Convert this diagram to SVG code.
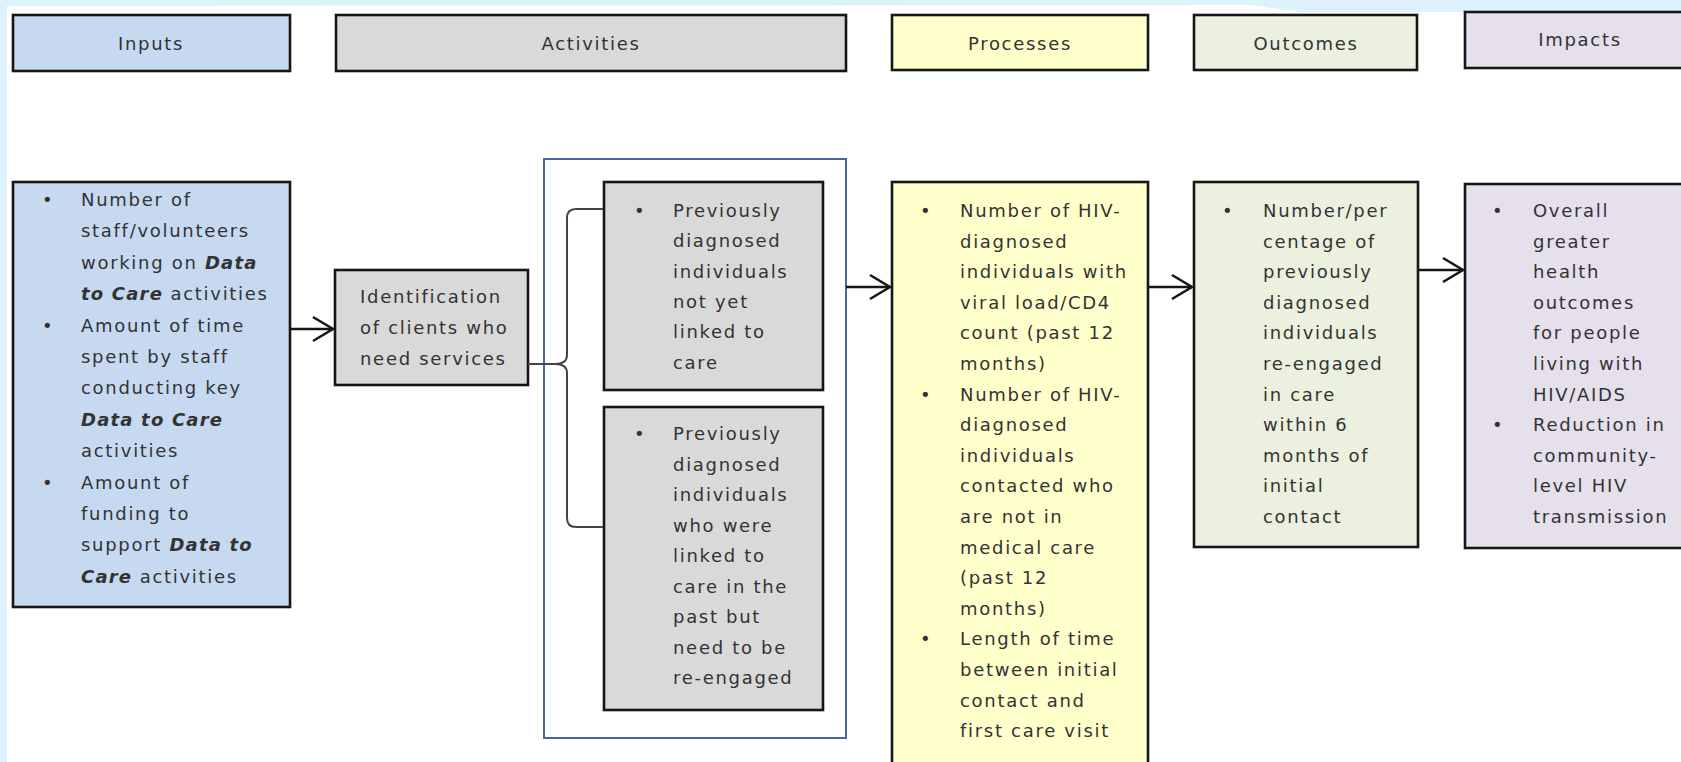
<svg xmlns="http://www.w3.org/2000/svg" width="1681" height="762" viewBox="0 0 1681 762">
  <style>
    .box { stroke: #161616; stroke-width: 2.6; }
    .in { fill: #c6d9f1; }
    .gr { fill: #d9d9d9; }
    .pr { fill: #ffffcc; }
    .ou { fill: #ebf1de; }
    .im { fill: #e5e0ec; }
    text { font-family: "DejaVu Sans", "Liberation Sans", sans-serif; font-size: 18px; letter-spacing: 1.7px; fill: #333333; }
    .hd { text-anchor: middle; }
    .bi { font-weight: bold; font-style: italic; letter-spacing: 1.2px; }
    .conn { stroke: #161616; stroke-width: 2.6; fill: none; }
    .brace { stroke: #444; stroke-width: 2; fill: none; }
  </style>
  <defs>
    <marker id="arr" viewBox="0 0 24 28" refX="22" refY="14" markerWidth="24" markerHeight="28" markerUnits="userSpaceOnUse" orient="auto">
      <path d="M2,2 L22,14 L2,26" fill="none" stroke="#161616" stroke-width="2.6"/>
    </marker>
  </defs>

  <!-- background -->
  <rect x="0" y="0" width="1681" height="762" fill="#ddf2fc"/>
  <polygon points="7,6 1250,5 1300,12 1681,12 1681,762 7,762" fill="#ffffff"/>

  <!-- headers -->
  <g id="hdr-inputs">
    <rect class="box in" x="13" y="15" width="277" height="56"/>
    <text class="hd" x="151" y="50">Inputs</text>
  </g>
  <g id="hdr-activities">
    <rect class="box gr" x="336" y="15" width="510" height="56"/>
    <text class="hd" x="591" y="50">Activities</text>
  </g>
  <g id="hdr-processes">
    <rect class="box pr" x="892" y="15" width="256" height="55"/>
    <text class="hd" x="1020" y="50">Processes</text>
  </g>
  <g id="hdr-outcomes">
    <rect class="box ou" x="1194" y="15" width="223" height="55"/>
    <text class="hd" x="1306" y="50">Outcomes</text>
  </g>
  <g id="hdr-impacts">
    <rect class="box im" x="1465" y="12" width="230" height="56"/>
    <text class="hd" x="1580" y="46">Impacts</text>
  </g>

  <!-- Inputs body -->
  <g id="inputs">
    <rect class="box in" x="13" y="182" width="277" height="425"/>
    <text x="42" y="206">•</text>
    <text x="42" y="331.6">•</text>
    <text x="42" y="488.6">•</text>
    <text x="81" y="206">Number of</text>
    <text x="81" y="237.4">staff/volunteers</text>
    <text x="81" y="268.8">working on <tspan class="bi">Data</tspan></text>
    <text x="81" y="300.2"><tspan class="bi">to Care</tspan> activities</text>
    <text x="81" y="331.6">Amount of time</text>
    <text x="81" y="363">spent by staff</text>
    <text x="81" y="394.4">conducting key</text>
    <text x="81" y="425.8"><tspan class="bi">Data to Care</tspan></text>
    <text x="81" y="457.2">activities</text>
    <text x="81" y="488.6">Amount of</text>
    <text x="81" y="520">funding to</text>
    <text x="81" y="551.4">support <tspan class="bi">Data to</tspan></text>
    <text x="81" y="582.8"><tspan class="bi">Care</tspan> activities</text>
  </g>

  <!-- Identification -->
  <g id="identification">
    <rect class="box gr" x="335" y="270" width="193" height="115"/>
    <text x="360" y="303">Identification</text>
    <text x="360" y="334">of clients who</text>
    <text x="360" y="365">need services</text>
  </g>

  <!-- Activities container -->
  <g id="activities-group">
    <rect x="544" y="159" width="302" height="579" fill="#ffffff" stroke="#4a67a1" stroke-width="2"/>
  </g>

  <g id="activity-1">
    <rect class="box gr" x="604" y="182" width="219" height="208"/>
    <text x="634" y="217">•</text>
    <text x="673" y="217">Previously</text>
    <text x="673" y="247.3">diagnosed</text>
    <text x="673" y="277.6">individuals</text>
    <text x="673" y="307.9">not yet</text>
    <text x="673" y="338.2">linked to</text>
    <text x="673" y="368.5">care</text>
  </g>

  <g id="activity-2">
    <rect class="box gr" x="604" y="407" width="219" height="303"/>
    <text x="634" y="440">•</text>
    <text x="673" y="440">Previously</text>
    <text x="673" y="470.5">diagnosed</text>
    <text x="673" y="501">individuals</text>
    <text x="673" y="531.5">who were</text>
    <text x="673" y="562">linked to</text>
    <text x="673" y="592.5">care in the</text>
    <text x="673" y="623">past but</text>
    <text x="673" y="653.5">need to be</text>
    <text x="673" y="684">re-engaged</text>
  </g>

  <!-- Processes -->
  <g id="processes">
    <rect class="box pr" x="892" y="182" width="256" height="600"/>
    <text x="920" y="217">•</text>
    <text x="920" y="400.6">•</text>
    <text x="920" y="645.4">•</text>
    <text x="960" y="217">Number of HIV-</text>
    <text x="960" y="247.6">diagnosed</text>
    <text x="960" y="278.2">individuals with</text>
    <text x="960" y="308.8">viral load/CD4</text>
    <text x="960" y="339.4">count (past 12</text>
    <text x="960" y="370">months)</text>
    <text x="960" y="400.6">Number of HIV-</text>
    <text x="960" y="431.2">diagnosed</text>
    <text x="960" y="461.8">individuals</text>
    <text x="960" y="492.4">contacted who</text>
    <text x="960" y="523">are not in</text>
    <text x="960" y="553.6">medical care</text>
    <text x="960" y="584.2">(past 12</text>
    <text x="960" y="614.8">months)</text>
    <text x="960" y="645.4">Length of time</text>
    <text x="960" y="676">between initial</text>
    <text x="960" y="706.6">contact and</text>
    <text x="960" y="737.2">first care visit</text>
  </g>

  <!-- Outcomes -->
  <g id="outcomes">
    <rect class="box ou" x="1194" y="182" width="224" height="365"/>
    <text x="1222" y="217">•</text>
    <text x="1263" y="217">Number/per</text>
    <text x="1263" y="247.6">centage of</text>
    <text x="1263" y="278.2">previously</text>
    <text x="1263" y="308.8">diagnosed</text>
    <text x="1263" y="339.4">individuals</text>
    <text x="1263" y="370">re-engaged</text>
    <text x="1263" y="400.6">in care</text>
    <text x="1263" y="431.2">within 6</text>
    <text x="1263" y="461.8">months of</text>
    <text x="1263" y="492.4">initial</text>
    <text x="1263" y="523">contact</text>
  </g>

  <!-- Impacts -->
  <g id="impacts">
    <rect class="box im" x="1465" y="184" width="230" height="364"/>
    <text x="1492" y="217">•</text>
    <text x="1492" y="431.2">•</text>
    <text x="1533" y="217">Overall</text>
    <text x="1533" y="247.6">greater</text>
    <text x="1533" y="278.2">health</text>
    <text x="1533" y="308.8">outcomes</text>
    <text x="1533" y="339.4">for people</text>
    <text x="1533" y="370">living with</text>
    <text x="1533" y="400.6">HIV/AIDS</text>
    <text x="1533" y="431.2">Reduction in</text>
    <text x="1533" y="461.8">community-</text>
    <text x="1533" y="492.4">level HIV</text>
    <text x="1533" y="523">transmission</text>
  </g>

  <!-- connectors -->
  <g id="connectors">
    <line class="conn" x1="290" y1="329" x2="333" y2="329" marker-end="url(#arr)"/>
    <line class="conn" x1="846" y1="287" x2="890" y2="287" marker-end="url(#arr)"/>
    <line class="conn" x1="1148" y1="287" x2="1192" y2="287" marker-end="url(#arr)"/>
    <line class="conn" x1="1418" y1="270" x2="1463" y2="270" marker-end="url(#arr)"/>
    <line class="brace" x1="528" y1="364" x2="556" y2="364"/>
    <path class="brace" d="M603,209 L576,209 Q567,209 567,218 L567,355 Q567,364 555,364 Q567,364 567,373 L567,518 Q567,527 576,527 L603,527"/>
  </g>
</svg>
